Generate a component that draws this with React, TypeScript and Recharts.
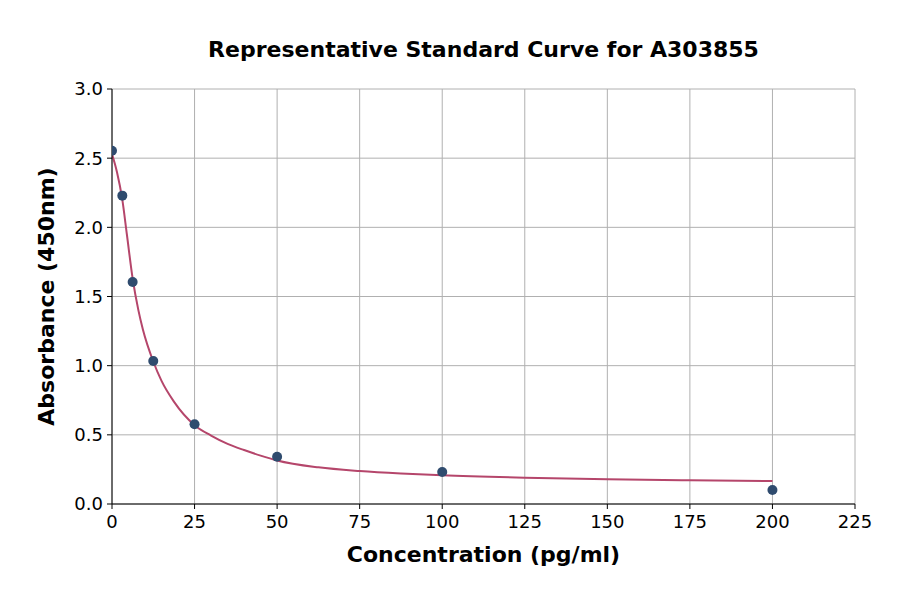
import React from "react"
import { ComposedChart, Line, Scatter, XAxis, YAxis, CartesianGrid } from "recharts"

// measured standards
const concentrations = [0, 3.125, 6.25, 12.5, 25, 50, 100, 200]
const absorbances = [2.554, 2.229, 1.605, 1.034, 0.576, 0.342, 0.231, 0.101]

// fitted curve
const curveX = [0, 1.5, 3.125, 4.5, 6.25, 8, 9.375, 12.5, 15, 18.75, 25, 30, 35, 40, 45, 50, 62.5, 75, 87.5, 100, 125, 150, 175, 200]
const curveY = [2.53, 2.4, 2.2, 1.95, 1.63, 1.4, 1.26, 1.03, 0.89, 0.74, 0.57, 0.495, 0.435, 0.39, 0.35, 0.315, 0.265, 0.238, 0.22, 0.207, 0.19, 0.179, 0.171, 0.166]

const xTicks = [0, 25, 50, 75, 100, 125, 150, 175, 200, 225]
const yTicks = [0, 0.5, 1.0, 1.5, 2.0, 2.5, 3.0]

const points = concentrations.map((x, i) => ({ x, y: absorbances[i] }))
const curve = curveX.map((x, i) => ({ x, y: curveY[i] }))

const font = "DejaVu Sans"

export default function App() {
  return (
    <div style={{ position: "absolute", left: 0, top: 0, width: 900, height: 594, background: "white", fontFamily: font }}>
      <div style={{ position: "absolute", left: 112, width: 743, top: 36, textAlign: "center", fontSize: 22, lineHeight: "28px", fontWeight: "bold", color: "#000" }}>
        Representative Standard Curve for A303855
      </div>
      <ComposedChart width={900} height={594} margin={{ top: 89, right: 45, bottom: 20, left: 52 }}>
        <CartesianGrid stroke="#b0b0b0" strokeWidth={1} horizontalValues={yTicks} verticalValues={xTicks} />
        <XAxis
          dataKey="x"
          type="number"
          domain={[0, 225]}
          ticks={xTicks}
          height={70}
          allowDataOverflow
          stroke="#000"
          tickLine={{ stroke: "#000" }}
          tickSize={5}
          tickMargin={6}
          tick={{ fill: "#000", fontSize: 18, fontFamily: font }}
          label={{ value: "Concentration (pg/ml)", position: "insideBottom", offset: 12, fill: "#000", fontSize: 22, fontWeight: "bold", fontFamily: font }}
        />
        <XAxis xAxisId="top" orientation="top" type="number" domain={[0, 225]} height={0} tick={false} tickLine={false} stroke="#000" />
        <YAxis
          dataKey="y"
          type="number"
          domain={[0, 3]}
          ticks={yTicks}
          width={60}
          allowDataOverflow
          stroke="#000"
          tickLine={{ stroke: "#000" }}
          tickSize={5}
          tickMargin={4}
          tickFormatter={(v: number) => v.toFixed(1)}
          tick={{ fill: "#000", fontSize: 18, fontFamily: font }}
          label={{ value: "Absorbance (450nm)", angle: -90, position: "insideLeft", offset: -6, style: { textAnchor: "middle" }, fill: "#000", fontSize: 22, fontWeight: "bold", fontFamily: font }}
        />
        <YAxis yAxisId="right" orientation="right" type="number" domain={[0, 3]} width={0} tick={false} tickLine={false} stroke="#000" />
        <Line data={curve} dataKey="y" type="monotone" stroke="#b5466b" strokeWidth={2} dot={false} isAnimationActive={false} />
        <Scatter data={points} dataKey="y" fill="#2f4b6e" shape={(p: any) => <circle cx={p.cx} cy={p.cy} r={5} fill="#2f4b6e" />} isAnimationActive={false} />
      </ComposedChart>
    </div>
  )
}
